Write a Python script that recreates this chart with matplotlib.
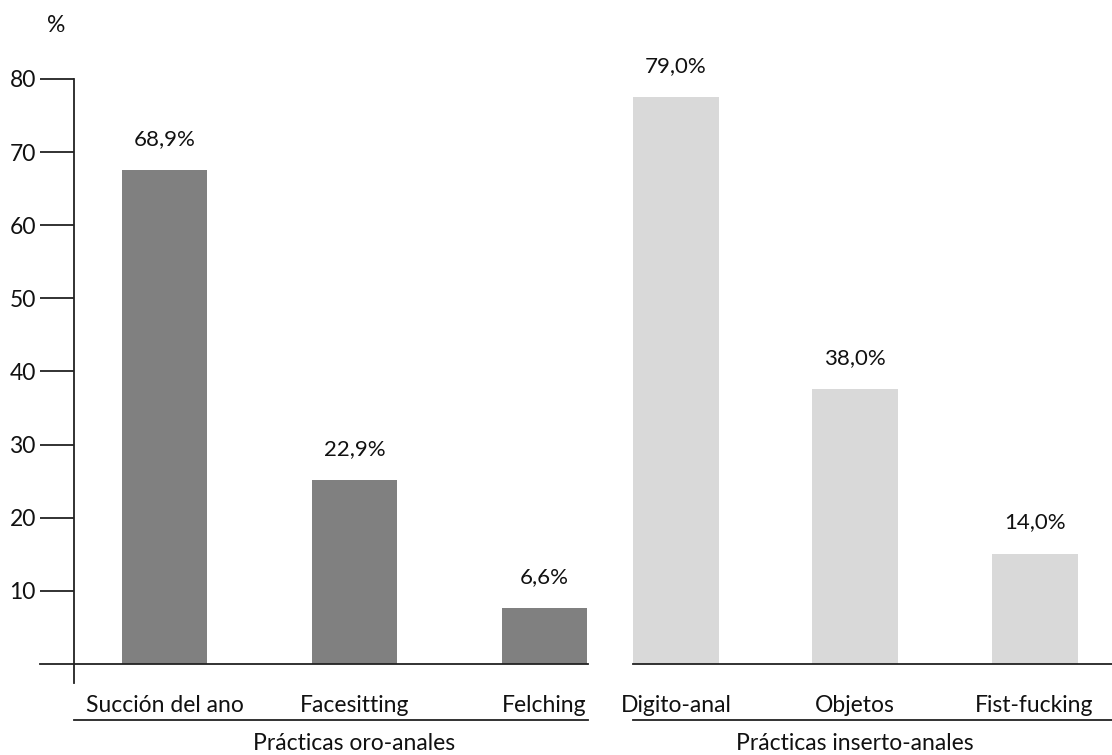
import matplotlib
matplotlib.use("Agg")
import matplotlib.pyplot as plt
from matplotlib.lines import Line2D
import numpy as np

plt.rcParams['font.family'] = ['Lato', 'DejaVu Sans']

# data
oro_cats = ['Succión del ano', 'Facesitting', 'Felching']
oro_heights = [67.6, 25.1, 7.6]
oro_labels = ['68,9%', '22,9%', '6,6%']

ins_cats = ['Digito-anal', 'Objetos', 'Fist-fucking']
ins_heights = [77.5, 37.6, 15.1]
ins_labels = ['79,0%', '38,0%', '14,0%']

group_names = ['Prácticas oro-anales', 'Prácticas inserto-anales']
yticks = [10, 20, 30, 40, 50, 60, 70, 80]

W, H = 1112, 755
fig = plt.figure(figsize=(W / 100, H / 100), dpi=100)


def px_box(x0, x1, y_top, y_bot):
    return [x0 / W, 1 - y_bot / H, (x1 - x0) / W, (y_bot - y_top) / H]


ink = '#111111'
fs = 16.5
fs_val = 16
ylim = (-2.6, 80)

ax1 = fig.add_axes(px_box(74, 588, 79, 683))
ax2 = fig.add_axes(px_box(633, 1112, 79, 683))

x = np.arange(3)
ax1.bar(x, oro_heights, width=0.447, color='#808080')
ax2.bar(x, ins_heights, width=0.48, color='#d9d9d9')
ax1.set_xlim(-0.476, 2.229)
ax2.set_xlim(-0.24, 2.432)

for ax, heights, labels, cats in [(ax1, oro_heights, oro_labels, oro_cats),
                                  (ax2, ins_heights, ins_labels, ins_cats)]:
    ax.set_ylim(*ylim)
    for s in ['top', 'right', 'bottom']:
        ax.spines[s].set_visible(False)
    for xi, h, lab in zip(x, heights, labels):
        ax.annotate(lab, (xi, h), xytext=(0, 18), textcoords='offset points',
                    ha='center', va='baseline', fontsize=fs_val, color=ink)
    ax.set_xticks(x, cats)
    ax.tick_params(axis='x', length=0, pad=9, labelsize=fs, labelcolor=ink)

ax1.axhline(0, xmin=(40 - 74) / (588 - 74), xmax=1, color='#222222', lw=1.3, clip_on=False)
ax2.axhline(0, color='#222222', lw=1.3, clip_on=False)

ax1.spines['left'].set_color('#222222')
ax1.spines['left'].set_linewidth(1.3)
ax1.set_yticks(yticks)
ax1.tick_params(axis='y', direction='out', length=24.5, width=1.3, color='#222222',
                pad=3, labelsize=fs, labelcolor=ink)

ax2.spines['left'].set_visible(False)
ax2.set_yticks([])

fig.text(56 / W, 1 - 26 / H, '%', ha='center', va='center', fontsize=fs, color=ink)

# group underlines and names
for (x0, x1), ax, name in [((74, 588), ax1, group_names[0]),
                           ((633, 1112), ax2, group_names[1])]:
    fig.add_artist(Line2D([x0 / W, x1 / W], [1 - 720 / H, 1 - 720 / H],
                          color='#222222', lw=1.3))
    cx = ax.transData.transform((1, 0))[0] / fig.dpi / fig.get_figwidth()
    fig.text(cx, 1 - 743 / H, name, ha='center', va='center', fontsize=fs, color=ink)

fig.savefig('out.png', dpi=100)
